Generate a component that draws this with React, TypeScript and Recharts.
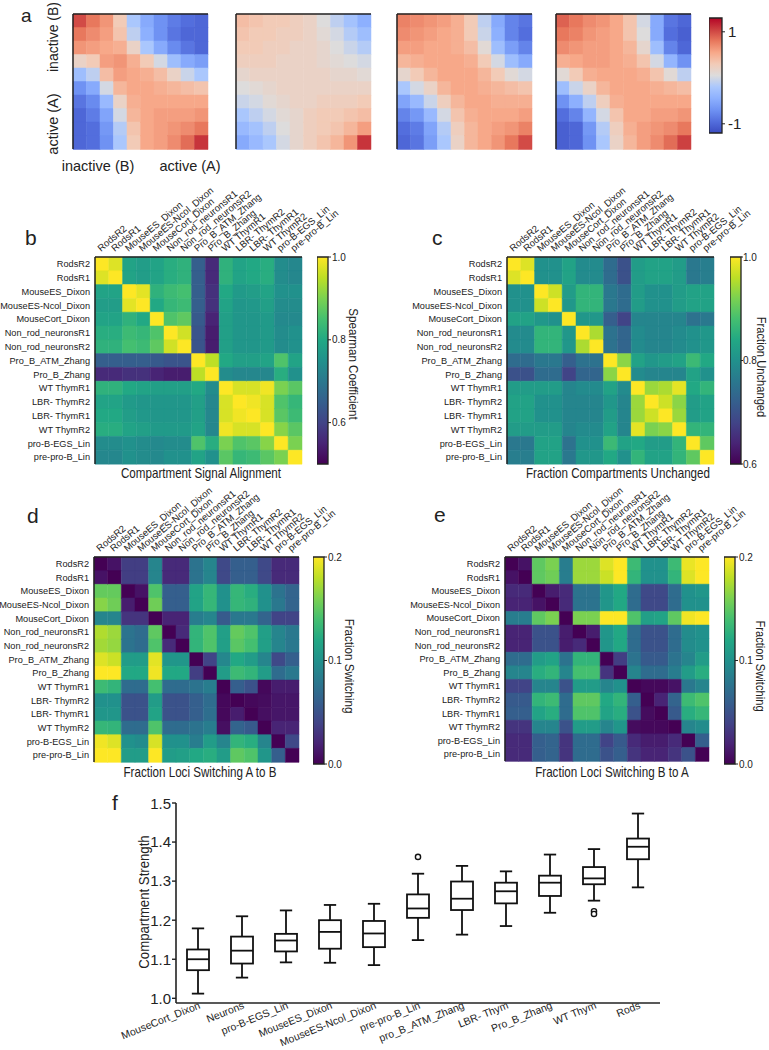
import React from 'react';
import { BarChart, Bar, Cell, XAxis, YAxis, ComposedChart, Scatter } from 'recharts';

const FONT = '"Liberation Sans", Arial, sans-serif';
const INK = '#222';

// ---- panel a: saddle plots (rows top->bottom, cols left->right) ----
const saddle1 = [
  [1.0, 0.8, 0.65, 0.3, -0.2, -0.5, -0.7, -0.85, -0.95, -1.0],
  [0.8, 0.7, 0.6, 0.35, -0.1, -0.45, -0.7, -0.9, -1.0, -1.0],
  [0.65, 0.6, 0.55, 0.5, 0.2, -0.2, -0.5, -0.75, -0.9, -1.0],
  [0.2, 0.3, 0.6, 0.65, 0.5, 0.3, 0.0, -0.3, -0.5, -0.6],
  [-0.3, -0.1, 0.4, 0.6, 0.55, 0.5, 0.4, 0.2, -0.05, -0.2],
  [-0.7, -0.5, 0.0, 0.45, 0.55, 0.55, 0.5, 0.45, 0.4, 0.35],
  [-0.9, -0.75, -0.35, 0.2, 0.5, 0.55, 0.55, 0.55, 0.55, 0.55],
  [-1.0, -0.85, -0.55, 0.0, 0.45, 0.55, 0.6, 0.6, 0.6, 0.65],
  [-1.0, -0.95, -0.65, -0.15, 0.35, 0.55, 0.6, 0.65, 0.7, 0.8],
  [-1.0, -0.95, -0.7, -0.2, 0.3, 0.55, 0.6, 0.7, 0.85, 1.1],
];
const saddle2 = [
  [0.4, 0.35, 0.3, 0.3, 0.25, 0.2, 0.05, -0.1, -0.25, -0.45],
  [0.35, 0.3, 0.3, 0.25, 0.25, 0.2, 0.1, 0.0, -0.15, -0.3],
  [0.3, 0.3, 0.25, 0.25, 0.2, 0.2, 0.15, 0.05, -0.05, -0.15],
  [0.25, 0.25, 0.25, 0.2, 0.2, 0.2, 0.15, 0.1, 0.05, 0.0],
  [0.15, 0.2, 0.2, 0.2, 0.2, 0.2, 0.2, 0.15, 0.15, 0.1],
  [0.05, 0.1, 0.15, 0.2, 0.2, 0.2, 0.2, 0.2, 0.2, 0.2],
  [-0.05, 0.0, 0.1, 0.15, 0.2, 0.2, 0.25, 0.25, 0.25, 0.3],
  [-0.2, -0.1, 0.0, 0.1, 0.15, 0.25, 0.3, 0.3, 0.35, 0.4],
  [-0.35, -0.25, -0.1, 0.05, 0.15, 0.25, 0.3, 0.35, 0.45, 0.6],
  [-0.5, -0.35, -0.2, 0.0, 0.15, 0.25, 0.35, 0.45, 0.65, 1.1],
];
const saddle3 = [
  [0.75, 0.7, 0.65, 0.6, 0.5, 0.3, -0.1, -0.5, -0.8, -0.9],
  [0.7, 0.65, 0.6, 0.55, 0.5, 0.3, -0.05, -0.45, -0.8, -0.95],
  [0.6, 0.6, 0.55, 0.55, 0.5, 0.4, 0.1, -0.3, -0.6, -0.8],
  [0.45, 0.5, 0.55, 0.55, 0.55, 0.5, 0.3, 0.0, -0.3, -0.5],
  [0.15, 0.3, 0.45, 0.55, 0.55, 0.55, 0.45, 0.3, 0.1, 0.0],
  [-0.2, 0.0, 0.2, 0.45, 0.55, 0.55, 0.5, 0.45, 0.4, 0.35],
  [-0.55, -0.35, -0.05, 0.25, 0.45, 0.55, 0.55, 0.5, 0.5, 0.5],
  [-0.8, -0.65, -0.35, 0.0, 0.35, 0.5, 0.55, 0.55, 0.55, 0.6],
  [-0.95, -0.85, -0.55, -0.15, 0.25, 0.45, 0.55, 0.6, 0.65, 0.75],
  [-1.0, -0.9, -0.6, -0.2, 0.2, 0.45, 0.55, 0.65, 0.8, 1.0],
];
const saddle4 = [
  [0.9, 0.8, 0.7, 0.65, 0.55, 0.35, 0.0, -0.5, -0.9, -1.0],
  [0.8, 0.75, 0.65, 0.6, 0.55, 0.35, 0.05, -0.5, -0.95, -1.05],
  [0.7, 0.65, 0.6, 0.6, 0.55, 0.45, 0.15, -0.3, -0.8, -1.0],
  [0.5, 0.55, 0.6, 0.6, 0.55, 0.5, 0.35, 0.0, -0.4, -0.7],
  [0.1, 0.3, 0.5, 0.55, 0.55, 0.55, 0.5, 0.35, 0.1, -0.1],
  [-0.3, -0.05, 0.2, 0.45, 0.55, 0.55, 0.55, 0.5, 0.45, 0.4],
  [-0.7, -0.45, -0.1, 0.25, 0.5, 0.55, 0.55, 0.55, 0.55, 0.55],
  [-0.95, -0.8, -0.4, 0.0, 0.35, 0.55, 0.55, 0.6, 0.6, 0.65],
  [-1.05, -1.0, -0.65, -0.15, 0.25, 0.5, 0.6, 0.65, 0.7, 0.8],
  [-1.05, -1.0, -0.7, -0.2, 0.2, 0.45, 0.6, 0.7, 0.85, 1.05],
];
const saddleIndex = ['0', '1', '2', '3', '4', '5', '6', '7', '8', '9'];

// ---- panels b-e: 15 x 15 comparisons ----
const samples = [
  'RodsR2', 'RodsR1', 'MouseES_Dixon', 'MouseES-Ncol_Dixon', 'MouseCort_Dixon',
  'Non_rod_neuronsR1', 'Non_rod_neuronsR2', 'Pro_B_ATM_Zhang', 'Pro_B_Zhang', 'WT ThymR1',
  'LBR- ThymR2', 'LBR- ThymR1', 'WT ThymR2', 'pro-B-EGS_Lin', 'pre-pro-B_Lin',
];

const spearman = [
  [1.00, 0.975, 0.79, 0.775, 0.79, 0.81, 0.82, 0.65, 0.56, 0.82, 0.79, 0.80, 0.81, 0.74, 0.73],
  [0.975, 1.00, 0.79, 0.775, 0.79, 0.81, 0.82, 0.65, 0.56, 0.82, 0.79, 0.80, 0.81, 0.74, 0.73],
  [0.79, 0.79, 1.00, 0.98, 0.82, 0.84, 0.85, 0.65, 0.57, 0.80, 0.77, 0.775, 0.79, 0.75, 0.75],
  [0.775, 0.775, 0.98, 1.00, 0.80, 0.83, 0.84, 0.65, 0.57, 0.79, 0.76, 0.765, 0.78, 0.74, 0.74],
  [0.79, 0.79, 0.82, 0.80, 1.00, 0.86, 0.875, 0.64, 0.55, 0.78, 0.76, 0.76, 0.77, 0.735, 0.735],
  [0.81, 0.81, 0.84, 0.83, 0.86, 1.00, 0.965, 0.63, 0.54, 0.78, 0.76, 0.76, 0.77, 0.74, 0.75],
  [0.82, 0.82, 0.85, 0.84, 0.875, 0.965, 1.00, 0.63, 0.54, 0.78, 0.76, 0.76, 0.77, 0.74, 0.75],
  [0.65, 0.65, 0.65, 0.65, 0.64, 0.63, 0.63, 1.00, 0.95, 0.80, 0.78, 0.78, 0.79, 0.86, 0.79],
  [0.56, 0.56, 0.57, 0.57, 0.55, 0.54, 0.54, 0.95, 1.00, 0.74, 0.73, 0.73, 0.73, 0.81, 0.75],
  [0.82, 0.82, 0.80, 0.79, 0.78, 0.78, 0.78, 0.80, 0.74, 1.00, 0.97, 0.97, 0.99, 0.90, 0.87],
  [0.79, 0.79, 0.77, 0.76, 0.76, 0.76, 0.76, 0.78, 0.73, 0.97, 1.00, 0.99, 0.97, 0.86, 0.83],
  [0.80, 0.80, 0.775, 0.765, 0.76, 0.76, 0.76, 0.78, 0.73, 0.97, 0.99, 1.00, 0.97, 0.87, 0.84],
  [0.81, 0.81, 0.79, 0.78, 0.77, 0.77, 0.77, 0.79, 0.73, 0.99, 0.97, 0.97, 1.00, 0.91, 0.87],
  [0.74, 0.74, 0.75, 0.74, 0.735, 0.74, 0.74, 0.86, 0.81, 0.90, 0.86, 0.87, 0.91, 1.00, 0.90],
  [0.73, 0.73, 0.75, 0.74, 0.735, 0.75, 0.75, 0.79, 0.75, 0.87, 0.83, 0.84, 0.87, 0.90, 1.00],
];

const unchanged = [
  [1.00, 0.98, 0.80, 0.80, 0.83, 0.79, 0.79, 0.74, 0.70, 0.82, 0.83, 0.83, 0.82, 0.76, 0.77],
  [0.98, 1.00, 0.80, 0.80, 0.83, 0.79, 0.79, 0.74, 0.70, 0.82, 0.83, 0.83, 0.82, 0.76, 0.77],
  [0.80, 0.80, 1.00, 0.97, 0.82, 0.86, 0.86, 0.76, 0.74, 0.82, 0.80, 0.80, 0.82, 0.83, 0.83],
  [0.80, 0.80, 0.97, 1.00, 0.81, 0.86, 0.86, 0.76, 0.74, 0.82, 0.80, 0.80, 0.82, 0.83, 0.83],
  [0.83, 0.83, 0.81, 0.80, 1.00, 0.81, 0.81, 0.72, 0.68, 0.78, 0.78, 0.78, 0.78, 0.75, 0.76],
  [0.79, 0.79, 0.86, 0.86, 0.81, 1.00, 0.95, 0.75, 0.73, 0.79, 0.78, 0.78, 0.79, 0.80, 0.81],
  [0.79, 0.79, 0.86, 0.86, 0.81, 0.95, 1.00, 0.75, 0.73, 0.79, 0.78, 0.78, 0.79, 0.80, 0.81],
  [0.74, 0.74, 0.76, 0.76, 0.72, 0.75, 0.75, 1.00, 0.93, 0.83, 0.81, 0.82, 0.83, 0.87, 0.84],
  [0.70, 0.70, 0.74, 0.74, 0.68, 0.73, 0.73, 0.93, 1.00, 0.79, 0.78, 0.78, 0.78, 0.83, 0.80],
  [0.82, 0.82, 0.82, 0.82, 0.78, 0.79, 0.79, 0.83, 0.79, 1.00, 0.94, 0.95, 0.985, 0.84, 0.86],
  [0.83, 0.83, 0.80, 0.80, 0.78, 0.78, 0.78, 0.81, 0.78, 0.94, 1.00, 0.97, 0.93, 0.82, 0.83],
  [0.83, 0.83, 0.80, 0.80, 0.78, 0.78, 0.78, 0.82, 0.78, 0.94, 0.97, 1.00, 0.94, 0.82, 0.83],
  [0.82, 0.82, 0.82, 0.82, 0.78, 0.79, 0.79, 0.83, 0.78, 0.985, 0.92, 0.93, 1.00, 0.86, 0.86],
  [0.76, 0.76, 0.83, 0.83, 0.75, 0.80, 0.80, 0.87, 0.83, 0.84, 0.82, 0.82, 0.86, 1.00, 0.90],
  [0.77, 0.77, 0.83, 0.83, 0.76, 0.81, 0.81, 0.84, 0.80, 0.86, 0.83, 0.83, 0.86, 0.90, 1.00],
];

const switchAtoB = [
  [0.000, 0.010, 0.036, 0.036, 0.090, 0.024, 0.024, 0.076, 0.090, 0.044, 0.060, 0.060, 0.044, 0.024, 0.024],
  [0.010, 0.000, 0.036, 0.036, 0.090, 0.024, 0.024, 0.076, 0.090, 0.044, 0.060, 0.060, 0.044, 0.024, 0.024],
  [0.152, 0.152, 0.000, 0.010, 0.144, 0.060, 0.060, 0.116, 0.132, 0.100, 0.132, 0.124, 0.100, 0.076, 0.064],
  [0.164, 0.156, 0.016, 0.000, 0.156, 0.060, 0.060, 0.116, 0.132, 0.100, 0.132, 0.128, 0.100, 0.080, 0.064],
  [0.090, 0.090, 0.030, 0.030, 0.000, 0.020, 0.020, 0.084, 0.090, 0.056, 0.080, 0.080, 0.064, 0.040, 0.040],
  [0.176, 0.170, 0.076, 0.070, 0.150, 0.000, 0.024, 0.130, 0.144, 0.112, 0.152, 0.144, 0.112, 0.090, 0.080],
  [0.172, 0.168, 0.076, 0.070, 0.144, 0.024, 0.000, 0.130, 0.144, 0.112, 0.148, 0.140, 0.112, 0.090, 0.080],
  [0.190, 0.184, 0.110, 0.110, 0.192, 0.104, 0.104, 0.000, 0.040, 0.092, 0.120, 0.110, 0.090, 0.044, 0.060],
  [0.200, 0.200, 0.120, 0.120, 0.196, 0.120, 0.120, 0.036, 0.000, 0.110, 0.136, 0.130, 0.110, 0.070, 0.080],
  [0.136, 0.130, 0.070, 0.070, 0.140, 0.070, 0.070, 0.076, 0.084, 0.000, 0.060, 0.050, 0.004, 0.016, 0.016],
  [0.100, 0.100, 0.050, 0.050, 0.110, 0.050, 0.050, 0.060, 0.070, 0.004, 0.000, 0.004, 0.006, 0.012, 0.012],
  [0.104, 0.104, 0.050, 0.050, 0.116, 0.050, 0.050, 0.060, 0.072, 0.004, 0.016, 0.000, 0.008, 0.012, 0.012],
  [0.132, 0.130, 0.070, 0.070, 0.144, 0.070, 0.070, 0.076, 0.084, 0.008, 0.064, 0.056, 0.000, 0.020, 0.020],
  [0.196, 0.190, 0.100, 0.096, 0.188, 0.100, 0.100, 0.084, 0.110, 0.090, 0.130, 0.124, 0.090, 0.000, 0.044],
  [0.200, 0.200, 0.110, 0.110, 0.200, 0.110, 0.112, 0.120, 0.124, 0.110, 0.150, 0.144, 0.104, 0.060, 0.000],
];

const switchBtoA = [
  [0.000, 0.010, 0.150, 0.160, 0.084, 0.170, 0.170, 0.190, 0.200, 0.136, 0.100, 0.100, 0.136, 0.194, 0.200],
  [0.010, 0.000, 0.150, 0.156, 0.084, 0.170, 0.170, 0.184, 0.200, 0.130, 0.100, 0.100, 0.130, 0.190, 0.200],
  [0.024, 0.024, 0.000, 0.016, 0.024, 0.076, 0.076, 0.104, 0.120, 0.070, 0.044, 0.044, 0.070, 0.100, 0.104],
  [0.020, 0.020, 0.010, 0.000, 0.024, 0.076, 0.076, 0.104, 0.120, 0.070, 0.044, 0.044, 0.070, 0.100, 0.100],
  [0.084, 0.084, 0.150, 0.160, 0.000, 0.160, 0.160, 0.200, 0.200, 0.144, 0.112, 0.116, 0.150, 0.196, 0.200],
  [0.020, 0.020, 0.050, 0.050, 0.016, 0.000, 0.016, 0.104, 0.120, 0.070, 0.050, 0.050, 0.070, 0.096, 0.100],
  [0.020, 0.020, 0.050, 0.050, 0.016, 0.024, 0.000, 0.104, 0.120, 0.070, 0.050, 0.050, 0.070, 0.096, 0.100],
  [0.070, 0.070, 0.110, 0.116, 0.076, 0.130, 0.130, 0.000, 0.036, 0.076, 0.056, 0.056, 0.076, 0.090, 0.110],
  [0.090, 0.090, 0.124, 0.130, 0.090, 0.140, 0.140, 0.030, 0.000, 0.090, 0.070, 0.070, 0.084, 0.110, 0.124],
  [0.040, 0.040, 0.090, 0.090, 0.050, 0.110, 0.110, 0.090, 0.100, 0.000, 0.004, 0.004, 0.010, 0.080, 0.090],
  [0.056, 0.056, 0.130, 0.136, 0.070, 0.150, 0.150, 0.120, 0.130, 0.060, 0.000, 0.020, 0.064, 0.136, 0.144],
  [0.060, 0.060, 0.116, 0.124, 0.070, 0.144, 0.144, 0.116, 0.124, 0.050, 0.006, 0.000, 0.056, 0.124, 0.132],
  [0.030, 0.030, 0.090, 0.090, 0.050, 0.110, 0.110, 0.090, 0.104, 0.006, 0.004, 0.004, 0.000, 0.090, 0.096],
  [0.024, 0.024, 0.060, 0.064, 0.030, 0.070, 0.070, 0.040, 0.056, 0.024, 0.016, 0.016, 0.024, 0.000, 0.060],
  [0.024, 0.024, 0.060, 0.064, 0.030, 0.070, 0.070, 0.050, 0.060, 0.030, 0.020, 0.020, 0.030, 0.050, 0.000],
];

// ---- panel f: compartment strength boxplots ----
const strengthGroups = ['MouseCort_Dixon', 'Neurons', 'pro-B-EGS_Lin', 'MouseES_Dixon', 'MouseES-Ncol_Dixon', 'pre-pro-B_Lin', 'pro_B_ATM_Zhang', 'LBR- Thym', 'Pro_B_Zhang', 'WT Thym', 'Rods'];
const whiskerLow = [1.012, 1.053, 1.092, 1.091, 1.085, 1.149, 1.163, 1.185, 1.219, 1.250, 1.284];
const quartileLow = [1.072, 1.089, 1.120, 1.127, 1.131, 1.206, 1.226, 1.243, 1.262, 1.292, 1.356];
const medianStrength = [1.100, 1.122, 1.148, 1.170, 1.166, 1.230, 1.255, 1.274, 1.296, 1.307, 1.388];
const quartileHigh = [1.125, 1.158, 1.165, 1.200, 1.198, 1.266, 1.299, 1.296, 1.314, 1.336, 1.409];
const whiskerHigh = [1.179, 1.210, 1.225, 1.239, 1.242, 1.319, 1.339, 1.325, 1.368, 1.382, 1.473];
const outlierGroups = ['pre-pro-B_Lin', 'WT Thym', 'WT Thym'];
const outlierValues = [1.362, 1.223, 1.216];

// colour maps
const VIRIDIS = ['#440154', '#482475', '#414487', '#355f8d', '#2a788e', '#21918c', '#22a884', '#44bf70', '#7ad151', '#bddf26', '#fde725'];
const COOLWARM = ['#3b4cc0', '#536edd', '#6f92f3', '#8db0fe', '#aac7fd', '#dddcdc', '#f2cbb7', '#f7a889', '#e8785d', '#cc4040', '#b40426'];

const toRgb = (h: string) => [1, 3, 5].map((i) => parseInt(h.slice(i, i + 2), 16));
const rampColor = (stops: string[], t: number) => {
  const c = Math.max(0, Math.min(1, t)) * (stops.length - 1);
  const i = Math.min(Math.floor(c), stops.length - 2);
  const f = c - i;
  const a = toRgb(stops[i]);
  const b = toRgb(stops[i + 1]);
  return `rgb(${a.map((v, k) => Math.round(v + (b[k] - v) * f)).join(',')})`;
};
const scaleColor = (stops: string[], domain: number[]) => (v: number) =>
  rampColor(stops, (v - domain[0]) / (domain[1] - domain[0]));

const saddleDomain = [-1.2, 1.3];
const spearmanDomain = [0.5, 1.0];
const unchangedDomain = [0.6, 1.0];
const switchDomain = [0, 0.2];

const ColumnTick = (props: any) => {
  const { x, y, payload, names } = props;
  const label = names ? names[Math.floor(Number(payload?.value))] : '';
  return (
    <text x={x - 1} y={y} transform={`rotate(-40 ${x - 1} ${y})`} fontSize={9.6} fill={INK} fontFamily={FONT} textAnchor="start">
      {label}
    </text>
  );
};

interface HeatmapProps {
  names: string[];
  matrix: number[][];
  color: (v: number) => string;
  left: number;
  top: number;
  size: number;
  labeled?: boolean;
}

const Heatmap = ({ names, matrix, color, left, top, size, labeled = false }: HeatmapProps) => {
  const padL = labeled ? 100 : 2;
  const padT = labeled ? 90 : 2;
  const padR = labeled ? 80 : 2;
  const padB = 2;
  const n = names.length;
  const rows = names.map((name, i) => {
    const row: Record<string, any> = { name };
    matrix[i].forEach((_, j) => {
      row[`c${j}`] = 1;
    });
    return row;
  });
  const centers = names.map((_, j) => j + 0.5);
  const frame = { stroke: INK, strokeWidth: 1.5 };
  return (
    <div style={{ position: 'absolute', left: left - padL, top: top - padT }}>
      <BarChart
        layout="vertical"
        width={padL + size + padR}
        height={padT + size + padB}
        data={rows}
        margin={{ top: 0, right: padR, bottom: padB, left: 0 }}
        barCategoryGap={0}
        barGap={0}
      >
        <XAxis
          type="number"
          orientation="top"
          domain={[0, n]}
          ticks={centers}
          interval={0}
          height={padT}
          tickSize={3}
          tickMargin={2}
          tickLine={false}
          axisLine={frame}
          tick={labeled ? <ColumnTick names={names} /> : false}
        />
        <XAxis xAxisId="frameBottom" type="number" orientation="bottom" domain={[0, n]} height={0} tick={false} tickLine={false} axisLine={frame} />
        <YAxis
          type="category"
          dataKey="name"
          width={padL}
          interval={0}
          tickSize={3}
          tickMargin={2}
          tickLine={false}
          axisLine={frame}
          tick={labeled ? { fontSize: 9.2, fill: INK, fontFamily: FONT } : false}
        />
        <YAxis yAxisId="frameRight" type="number" orientation="right" domain={[0, 1]} width={0} tick={false} tickLine={false} axisLine={frame} />
        {names.map((_, j) => (
          <Bar key={j} dataKey={`c${j}`} stackId="cells" isAnimationActive={false}>
            {matrix.map((r, i) => (
              <Cell key={i} fill={color(r[j])} stroke={color(r[j])} strokeWidth={0.5} />
            ))}
          </Bar>
        ))}
      </BarChart>
    </div>
  );
};

interface ColorBarProps {
  id: string;
  stops: string[];
  domain: number[];
  ticks: number[];
  left: number;
  top: number;
  height: number;
  barWidth?: number;
  fontSize?: number;
  tickSize?: number;
  tickMargin?: number;
  fmt: (v: number) => string;
}

const ColorBar = ({ id, stops, domain, ticks, left, top, height, barWidth = 11, fontSize = 10, tickSize = 3, tickMargin = 1, fmt }: ColorBarProps) => (
  <div style={{ position: 'absolute', left, top: top - 10 }}>
    <BarChart
      width={barWidth + 43}
      height={height + 20}
      data={[{ name: id, span: domain }]}
      margin={{ top: 10, right: 0, bottom: 10, left: 0 }}
      barCategoryGap={0}
    >
      <defs>
        <linearGradient id={id} x1="0" y1="1" x2="0" y2="0">
          {stops.map((c, i) => (
            <stop key={i} offset={i / (stops.length - 1)} stopColor={c} />
          ))}
        </linearGradient>
      </defs>
      <XAxis dataKey="name" hide />
      <YAxis
        orientation="right"
        type="number"
        domain={domain}
        ticks={ticks}
        width={43}
        tickSize={tickSize}
        tickMargin={tickMargin}
        axisLine={false}
        tickLine={{ stroke: INK }}
        tick={{ fontSize, fill: INK, fontFamily: FONT }}
        tickFormatter={fmt}
      />
      <Bar dataKey="span" fill={`url(#${id})`} stroke={INK} strokeWidth={1.3} isAnimationActive={false} />
    </BarChart>
  </div>
);

const Whisker = (props: any) => {
  const { x, y, width, height } = props;
  const cx = x + width / 2;
  const cap = width * 0.28;
  return (
    <g stroke="#111" strokeWidth={1.8}>
      <line x1={cx} x2={cx} y1={y} y2={y + height} />
      <line x1={cx - cap} x2={cx + cap} y1={y} y2={y} />
      <line x1={cx - cap} x2={cx + cap} y1={y + height} y2={y + height} />
    </g>
  );
};

const BoxShape = (props: any) => {
  const { x, y, width, height, payload } = props;
  const my = y + (height * (payload.q3 - payload.med)) / (payload.q3 - payload.q1);
  return (
    <g>
      <rect x={x} y={y} width={width} height={height} fill="#fff" stroke="#111" strokeWidth={1.8} />
      <line x1={x} x2={x + width} y1={my} y2={my} stroke="#111" strokeWidth={1.8} />
    </g>
  );
};

const Outlier = (props: any) => <circle cx={props.cx} cy={props.cy} r={2.6} fill="#fff" stroke="#111" strokeWidth={1.4} />;

const StrengthTick = (props: any) => {
  const { x, y, payload } = props;
  const tx = x + 3;
  const ty = y - 3;
  return (
    <text x={tx} y={ty} transform={`rotate(-22 ${tx} ${ty})`} textAnchor="end" fontSize={10.5} fill={INK} fontFamily={FONT}>
      {payload.value}
    </text>
  );
};

const Label = ({ x, y, text, size, rotate = 0, anchor = 'middle', squeeze = 1 }: any) => (
  <text transform={`translate(${x} ${y}) rotate(${rotate}) scale(${squeeze} 1)`} fontSize={size} textAnchor={anchor} fill={INK} fontFamily={FONT}>
    {text}
  </text>
);

const App = () => {
  const boxRows = strengthGroups.map((name, i) => ({
    name,
    q1: quartileLow[i],
    med: medianStrength[i],
    q3: quartileHigh[i],
    whiskerSpan: [whiskerLow[i], whiskerHigh[i]],
    boxSpan: [quartileLow[i], quartileHigh[i]],
  }));
  const outlierRows = outlierGroups.map((name, i) => ({ name, value: outlierValues[i] }));
  const saddleColor = scaleColor(COOLWARM, saddleDomain);
  const f1 = (v: number) => v.toFixed(1);

  return (
    <div style={{ position: 'absolute', left: 0, top: 0, width: 769, height: 1050, background: '#fff', fontFamily: FONT }}>
      {/* a */}
      <Heatmap names={saddleIndex} matrix={saddle1} color={saddleColor} left={73} top={14} size={135} />
      <Heatmap names={saddleIndex} matrix={saddle2} color={saddleColor} left={236} top={14} size={135} />
      <Heatmap names={saddleIndex} matrix={saddle3} color={saddleColor} left={397} top={14} size={135} />
      <Heatmap names={saddleIndex} matrix={saddle4} color={saddleColor} left={556} top={14} size={135} />
      <ColorBar id="cbA" stops={COOLWARM} domain={saddleDomain} ticks={[-1, 1]} left={709} top={18} height={115} barWidth={13} fontSize={15} tickMargin={3} fmt={(v) => String(v)} />

      {/* b - e */}
      <Heatmap names={samples} matrix={spearman} color={scaleColor(VIRIDIS, spearmanDomain)} left={95} top={257} size={207} labeled />
      <ColorBar id="cbB" stops={VIRIDIS} domain={spearmanDomain} ticks={[0.6, 0.8, 1.0]} left={317} top={257} height={207} fmt={f1} />
      <Heatmap names={samples} matrix={unchanged} color={scaleColor(VIRIDIS, unchangedDomain)} left={507} top={257} size={207} labeled />
      <ColorBar id="cbC" stops={VIRIDIS} domain={unchangedDomain} ticks={[0.6, 0.8, 1.0]} left={730} top={257} height={207} tickSize={2} tickMargin={0} fmt={f1} />
      <Heatmap names={samples} matrix={switchAtoB} color={scaleColor(VIRIDIS, switchDomain)} left={94} top={557} size={205} labeled />
      <ColorBar id="cbD" stops={VIRIDIS} domain={switchDomain} ticks={[0, 0.1, 0.2]} left={313} top={557} height={207} fmt={f1} />
      <Heatmap names={samples} matrix={switchBtoA} color={scaleColor(VIRIDIS, switchDomain)} left={505} top={557} size={204} labeled />
      <ColorBar id="cbE" stops={VIRIDIS} domain={switchDomain} ticks={[0, 0.1, 0.2]} left={724} top={557} height={207} fmt={f1} />

      {/* f */}
      <div style={{ position: 'absolute', left: 100, top: 795 }}>
        <ComposedChart width={580} height={255} data={boxRows} margin={{ top: 8, right: 20, bottom: 0, left: 16 }} barSize={22} barGap={-22}>
          <XAxis
            dataKey="name"
            type="category"
            allowDuplicatedCategory={false}
            interval={0}
            height={47}
            tickLine={false}
            axisLine={{ stroke: INK, strokeWidth: 1.6 }}
            tick={<StrengthTick />}
          />
          <YAxis
            type="number"
            domain={[0.988, 1.5]}
            ticks={[1.0, 1.1, 1.2, 1.3, 1.4, 1.5]}
            tickFormatter={f1}
            width={60}
            tickSize={4}
            tickMargin={1}
            allowDataOverflow
            axisLine={{ stroke: INK, strokeWidth: 1.6 }}
            tickLine={{ stroke: INK, strokeWidth: 1.4 }}
            tick={{ fontSize: 15, fill: INK, fontFamily: FONT }}
          />
          <Bar dataKey="whiskerSpan" shape={Whisker} isAnimationActive={false} />
          <Bar dataKey="boxSpan" shape={BoxShape} isAnimationActive={false} />
          <Scatter data={outlierRows} dataKey="value" shape={Outlier} isAnimationActive={false} />
        </ComposedChart>
      </div>

      <svg width={769} height={1050} style={{ position: 'absolute', left: 0, top: 0, pointerEvents: 'none' }}>
        <Label x={21} y={22} text="a" size={19} anchor="start" />
        <Label x={58} y={37} text="inactive (B)" size={14} rotate={-90} />
        <Label x={58} y={124} text="active (A)" size={14.5} rotate={-90} />
        <Label x={98} y={171} text="inactive (B)" size={14.5} />
        <Label x={190} y={171} text="active (A)" size={14.5} />

        <Label x={25} y={245} text="b" size={21} anchor="start" />
        <Label x={432} y={245} text="c" size={21} anchor="start" />
        <Label x={27} y={523} text="d" size={21} anchor="start" />
        <Label x={434} y={522} text="e" size={21} anchor="start" />
        <Label x={112} y={810} text="f" size={21} anchor="start" />

        <Label x={349} y={364} text="Spearman Coefficient" size={13.5} rotate={90} squeeze={0.86} />
        <Label x={757} y={367} text="Fraction Unchanged" size={13} rotate={90} squeeze={0.86} />
        <Label x={345} y={666} text="Fraction Switching" size={13.5} rotate={90} squeeze={0.86} />
        <Label x={756} y={666} text="Fraction Switching" size={13} rotate={90} squeeze={0.86} />

        <Label x={201} y={478} text="Compartment Signal Alignment" size={14} squeeze={0.83} />
        <Label x={618} y={478} text="Fraction Compartments Unchanged" size={14} squeeze={0.83} />
        <Label x={200} y={777} text="Fraction Loci Switching A to B" size={14} squeeze={0.83} />
        <Label x={612} y={777} text="Fraction Loci Switching B to A" size={14} squeeze={0.83} />

        <Label x={149} y={902} text="Compartment Strength" size={15} rotate={-90} squeeze={0.88} />
      </svg>
    </div>
  );
};

export default App;
